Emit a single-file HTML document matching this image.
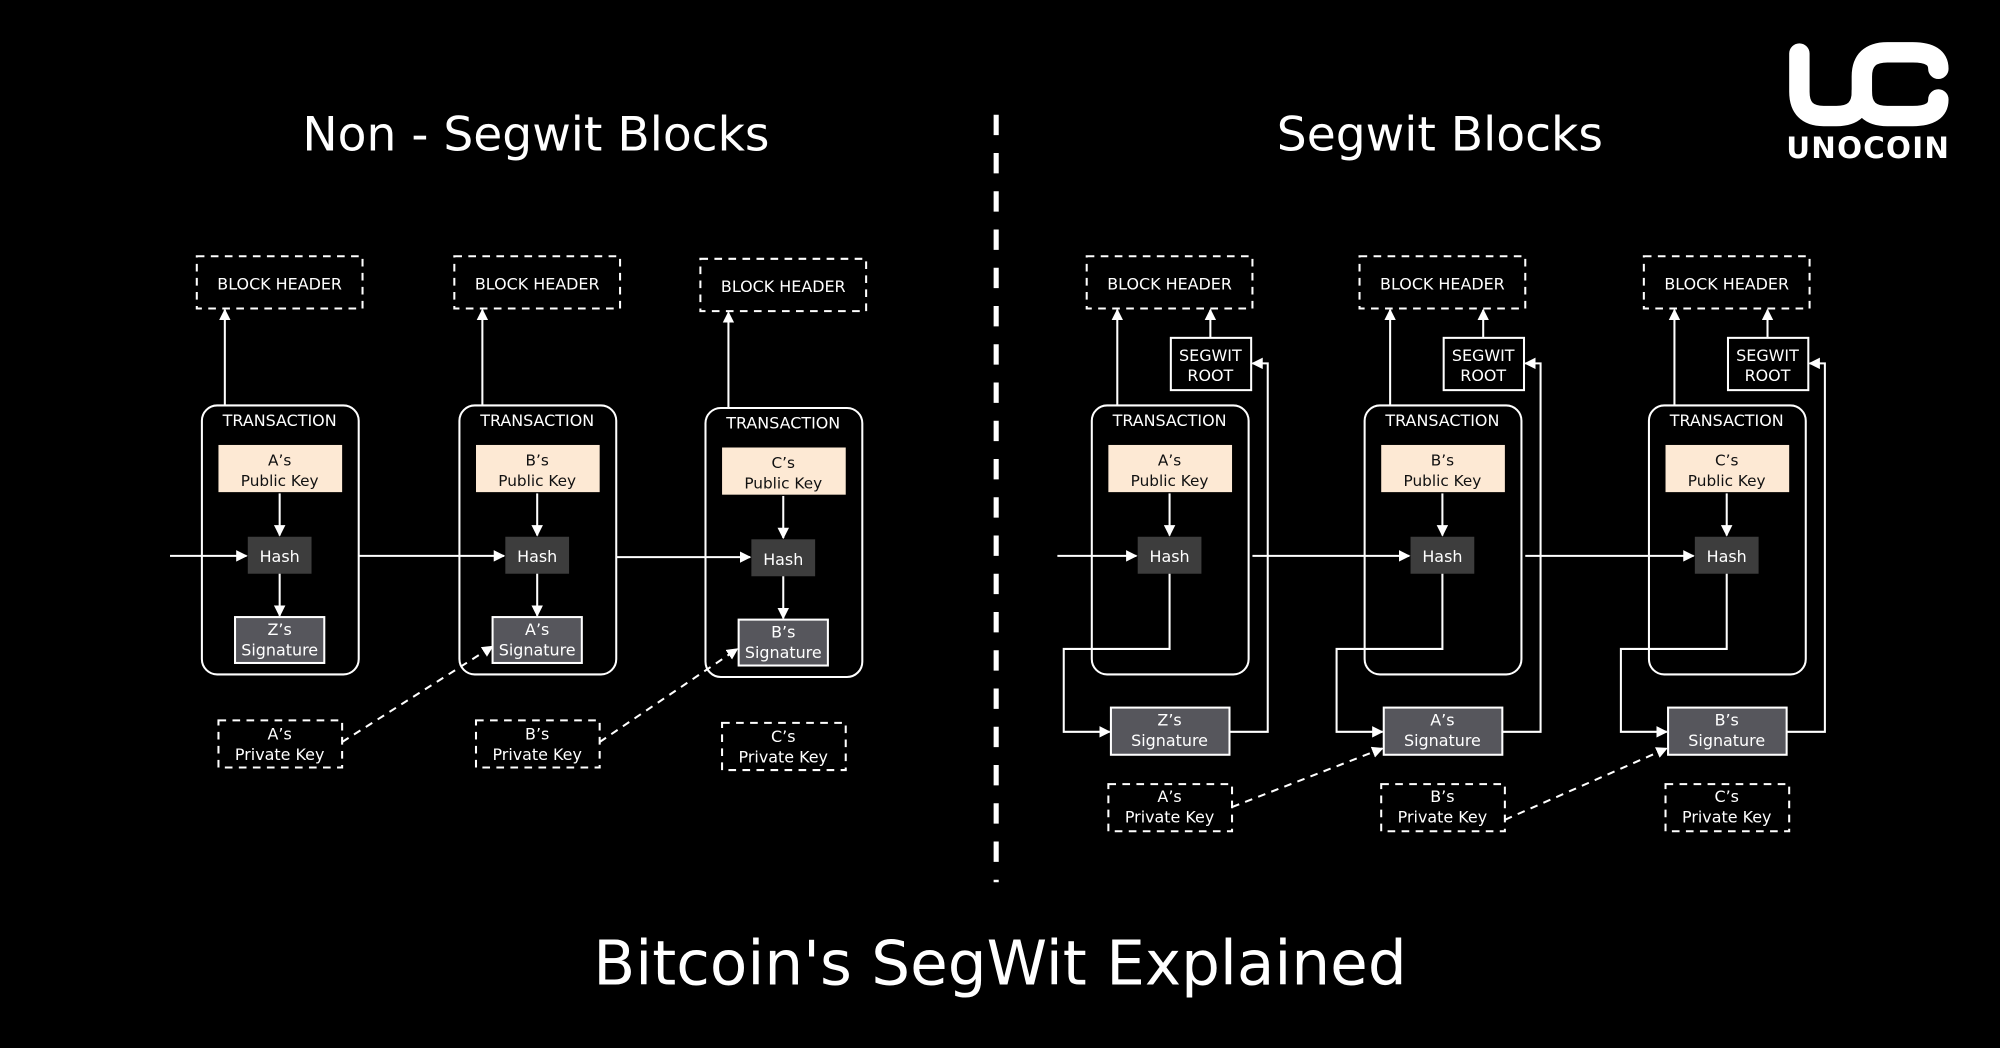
<!DOCTYPE html>
<html><head><meta charset="utf-8"><style>
html,body{margin:0;padding:0;background:#000;width:2000px;height:1048px;overflow:hidden}
svg{display:block}
text{font-family:"DejaVu Sans","Liberation Sans",sans-serif;fill:#fff}
.s{font-size:12.5px;text-anchor:middle}
.d{font-size:12px;text-anchor:middle;fill:#111}
</style></head><body>
<svg width="2000" height="1048" viewBox="0 0 1568 822" xmlns="http://www.w3.org/2000/svg">
<defs>
<marker id="a" viewBox="0 0 10 10" refX="9" refY="5" markerWidth="9" markerHeight="9" markerUnits="userSpaceOnUse" orient="auto"><path d="M0,0 L10,5 L0,10 z" fill="#fff"/></marker>
</defs>
<rect width="1568" height="822" fill="#000"/>

<text x="420" y="118" style="font-size:37px;text-anchor:middle">Non - Segwit Blocks</text>
<text x="1129" y="118" style="font-size:37px;text-anchor:middle">Segwit Blocks</text>
<text x="784" y="772" style="font-size:48px;text-anchor:middle">Bitcoin's SegWit Explained</text>
<line x1="781" y1="90" x2="781" y2="692" stroke="#fff" stroke-width="4" stroke-dasharray="16,14"/>

<!-- logo -->
<g fill="none" stroke="#fff" stroke-width="16" stroke-linecap="round">
<path d="M1411,42 V72 Q1411,91 1430,91 H1440 Q1460,91 1460,72 V60 Q1460,41 1480,41 H1500 Q1520,41 1520,54"/>
<path d="M1460,72 Q1460,91 1480,91 H1500 Q1520,91 1520,78"/>
</g>
<text x="1465" y="124" style="font-size:23px;font-weight:bold;text-anchor:middle;letter-spacing:1px">UNOCOIN</text>

<g stroke="#fff" stroke-width="1.6" fill="none">
<g>
<rect x="154" y="201" width="130" height="41" stroke-dasharray="6,5"/>
<rect x="158" y="318" width="123" height="211" rx="12"/>
<line x1="176" y1="318" x2="176" y2="243" marker-end="url(#a)"/>
<rect x="171" y="349" width="97" height="37" fill="#fde9d4" stroke="none"/>
<line x1="219" y1="387" x2="219" y2="420" marker-end="url(#a)"/>
<rect x="194" y="421" width="50" height="29" fill="#3d3d3d" stroke="none"/>
<line x1="219" y1="450" x2="219" y2="483" marker-end="url(#a)"/>
<rect x="184" y="484" width="70" height="36" fill="#56565c"/>
<rect x="171" y="565" width="97" height="37" stroke-dasharray="6,5"/>
</g>
<g transform="translate(202,0)">
<rect x="154" y="201" width="130" height="41" stroke-dasharray="6,5"/>
<rect x="158" y="318" width="123" height="211" rx="12"/>
<line x1="176" y1="318" x2="176" y2="243" marker-end="url(#a)"/>
<rect x="171" y="349" width="97" height="37" fill="#fde9d4" stroke="none"/>
<line x1="219" y1="387" x2="219" y2="420" marker-end="url(#a)"/>
<rect x="194" y="421" width="50" height="29" fill="#3d3d3d" stroke="none"/>
<line x1="219" y1="450" x2="219" y2="483" marker-end="url(#a)"/>
<rect x="184" y="484" width="70" height="36" fill="#56565c"/>
<rect x="171" y="565" width="97" height="37" stroke-dasharray="6,5"/>
</g>
<g transform="translate(395,2)">
<rect x="154" y="201" width="130" height="41" stroke-dasharray="6,5"/>
<rect x="158" y="318" width="123" height="211" rx="12"/>
<line x1="176" y1="318" x2="176" y2="243" marker-end="url(#a)"/>
<rect x="171" y="349" width="97" height="37" fill="#fde9d4" stroke="none"/>
<line x1="219" y1="387" x2="219" y2="420" marker-end="url(#a)"/>
<rect x="194" y="421" width="50" height="29" fill="#3d3d3d" stroke="none"/>
<line x1="219" y1="450" x2="219" y2="483" marker-end="url(#a)"/>
<rect x="184" y="484" width="70" height="36" fill="#56565c"/>
<rect x="171" y="565" width="97" height="37" stroke-dasharray="6,5"/>
</g>
<line x1="133" y1="436" x2="193" y2="436" marker-end="url(#a)"/>
<line x1="281" y1="436" x2="395" y2="436" marker-end="url(#a)"/>
<line x1="483" y1="437" x2="588" y2="437" marker-end="url(#a)"/>
<line x1="268" y1="582" x2="386" y2="507" stroke-dasharray="6,5" marker-end="url(#a)"/>
<line x1="470" y1="582" x2="578" y2="509" stroke-dasharray="6,5" marker-end="url(#a)"/>

<g>
<rect x="852" y="201" width="130" height="41" stroke-dasharray="6,5"/>
<rect x="918" y="265" width="63" height="41"/>
<line x1="949" y1="265" x2="949" y2="243" marker-end="url(#a)"/>
<rect x="856" y="318" width="123" height="211" rx="12"/>
<line x1="876" y1="318" x2="876" y2="243" marker-end="url(#a)"/>
<rect x="869" y="349" width="97" height="37" fill="#fde9d4" stroke="none"/>
<line x1="917" y1="387" x2="917" y2="420" marker-end="url(#a)"/>
<rect x="892" y="421" width="50" height="29" fill="#3d3d3d" stroke="none"/>
<polyline points="917,450 917,509 834,509 834,574 870,574" marker-end="url(#a)"/>
<rect x="871" y="555" width="93" height="37" fill="#56565c"/>
<polyline points="964,574 994,574 994,285 982,285" marker-end="url(#a)"/>
<rect x="869" y="615" width="97" height="37" stroke-dasharray="6,5"/>
</g>
<g transform="translate(214,0)">
<rect x="852" y="201" width="130" height="41" stroke-dasharray="6,5"/>
<rect x="918" y="265" width="63" height="41"/>
<line x1="949" y1="265" x2="949" y2="243" marker-end="url(#a)"/>
<rect x="856" y="318" width="123" height="211" rx="12"/>
<line x1="876" y1="318" x2="876" y2="243" marker-end="url(#a)"/>
<rect x="869" y="349" width="97" height="37" fill="#fde9d4" stroke="none"/>
<line x1="917" y1="387" x2="917" y2="420" marker-end="url(#a)"/>
<rect x="892" y="421" width="50" height="29" fill="#3d3d3d" stroke="none"/>
<polyline points="917,450 917,509 834,509 834,574 870,574" marker-end="url(#a)"/>
<rect x="871" y="555" width="93" height="37" fill="#56565c"/>
<polyline points="964,574 994,574 994,285 982,285" marker-end="url(#a)"/>
<rect x="869" y="615" width="97" height="37" stroke-dasharray="6,5"/>
</g>
<g transform="translate(437,0)">
<rect x="852" y="201" width="130" height="41" stroke-dasharray="6,5"/>
<rect x="918" y="265" width="63" height="41"/>
<line x1="949" y1="265" x2="949" y2="243" marker-end="url(#a)"/>
<rect x="856" y="318" width="123" height="211" rx="12"/>
<line x1="876" y1="318" x2="876" y2="243" marker-end="url(#a)"/>
<rect x="869" y="349" width="97" height="37" fill="#fde9d4" stroke="none"/>
<line x1="917" y1="387" x2="917" y2="420" marker-end="url(#a)"/>
<rect x="892" y="421" width="50" height="29" fill="#3d3d3d" stroke="none"/>
<polyline points="917,450 917,509 834,509 834,574 870,574" marker-end="url(#a)"/>
<rect x="871" y="555" width="93" height="37" fill="#56565c"/>
<polyline points="964,574 994,574 994,285 982,285" marker-end="url(#a)"/>
<rect x="869" y="615" width="97" height="37" stroke-dasharray="6,5"/>
</g>
<line x1="829" y1="436" x2="891" y2="436" marker-end="url(#a)"/>
<line x1="982" y1="436" x2="1105" y2="436" marker-end="url(#a)"/>
<line x1="1196" y1="436" x2="1328" y2="436" marker-end="url(#a)"/>
<line x1="966" y1="633" x2="1084" y2="587" stroke-dasharray="6,5" marker-end="url(#a)"/>
<line x1="1180" y1="643" x2="1307" y2="587" stroke-dasharray="6,5" marker-end="url(#a)"/>
</g>

<text class="s" x="219" y="227">BLOCK HEADER</text>
<text class="s" x="219" y="334">TRANSACTION</text>
<text class="d" x="219" y="365">A’s</text><text class="d" x="219" y="381">Public Key</text>
<text class="s" x="219" y="441">Hash</text>
<text class="s" x="219" y="498">Z’s</text><text class="s" x="219" y="514">Signature</text>
<text class="s" x="219" y="580">A’s</text><text class="s" x="219" y="596">Private Key</text>

<text class="s" x="421" y="227">BLOCK HEADER</text>
<text class="s" x="421" y="334">TRANSACTION</text>
<text class="d" x="421" y="365">B’s</text><text class="d" x="421" y="381">Public Key</text>
<text class="s" x="421" y="441">Hash</text>
<text class="s" x="421" y="498">A’s</text><text class="s" x="421" y="514">Signature</text>
<text class="s" x="421" y="580">B’s</text><text class="s" x="421" y="596">Private Key</text>

<text class="s" x="614" y="229">BLOCK HEADER</text>
<text class="s" x="614" y="336">TRANSACTION</text>
<text class="d" x="614" y="367">C’s</text><text class="d" x="614" y="383">Public Key</text>
<text class="s" x="614" y="443">Hash</text>
<text class="s" x="614" y="500">B’s</text><text class="s" x="614" y="516">Signature</text>
<text class="s" x="614" y="582">C’s</text><text class="s" x="614" y="598">Private Key</text>

<text class="s" x="917" y="227">BLOCK HEADER</text>
<text class="s" x="949" y="283">SEGWIT</text><text class="s" x="949" y="299">ROOT</text>
<text class="s" x="917" y="334">TRANSACTION</text>
<text class="d" x="917" y="365">A’s</text><text class="d" x="917" y="381">Public Key</text>
<text class="s" x="917" y="441">Hash</text>
<text class="s" x="917" y="569">Z’s</text><text class="s" x="917" y="585">Signature</text>
<text class="s" x="917" y="629">A’s</text><text class="s" x="917" y="645">Private Key</text>

<text class="s" x="1131" y="227">BLOCK HEADER</text>
<text class="s" x="1163" y="283">SEGWIT</text><text class="s" x="1163" y="299">ROOT</text>
<text class="s" x="1131" y="334">TRANSACTION</text>
<text class="d" x="1131" y="365">B’s</text><text class="d" x="1131" y="381">Public Key</text>
<text class="s" x="1131" y="441">Hash</text>
<text class="s" x="1131" y="569">A’s</text><text class="s" x="1131" y="585">Signature</text>
<text class="s" x="1131" y="629">B’s</text><text class="s" x="1131" y="645">Private Key</text>

<text class="s" x="1354" y="227">BLOCK HEADER</text>
<text class="s" x="1386" y="283">SEGWIT</text><text class="s" x="1386" y="299">ROOT</text>
<text class="s" x="1354" y="334">TRANSACTION</text>
<text class="d" x="1354" y="365">C’s</text><text class="d" x="1354" y="381">Public Key</text>
<text class="s" x="1354" y="441">Hash</text>
<text class="s" x="1354" y="569">B’s</text><text class="s" x="1354" y="585">Signature</text>
<text class="s" x="1354" y="629">C’s</text><text class="s" x="1354" y="645">Private Key</text>
</svg>
</body></html>
